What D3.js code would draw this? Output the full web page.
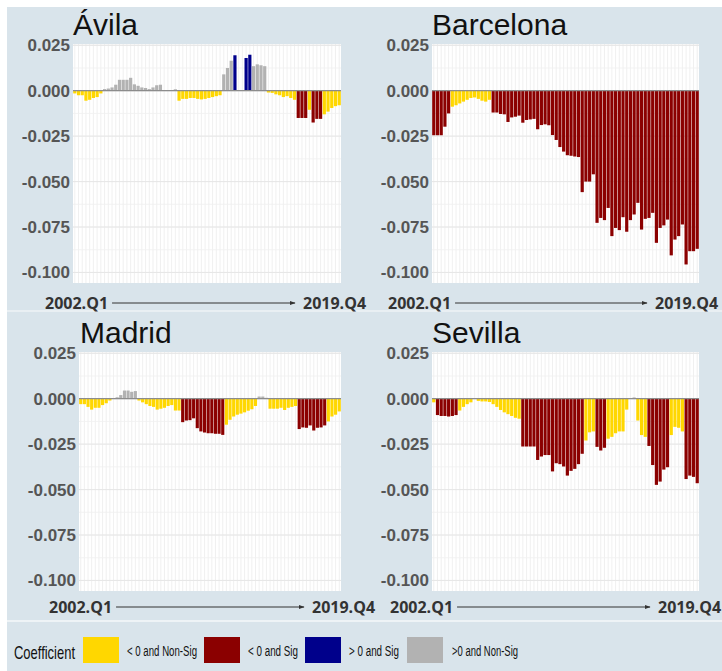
<!DOCTYPE html>
<html>
<head>
<meta charset="utf-8">
<script src="https://cdn.jsdelivr.net/npm/d3@7"></script>
<style>
  body { margin: 0; background: #ffffff; }
  svg { display: block; }
</style>
</head>
<body>
<svg id="fig" width="722" height="671"></svg>
<script>
// Quarterly periods 2002.Q1 ... 2019.Q4
const quarters = [];
for (let yr = 2002; yr <= 2019; yr++) for (let q = 1; q <= 4; q++) quarters.push(yr + ".Q" + q);

const yTicks = [0.025, 0, -0.025, -0.05, -0.075, -0.1];
const tickLabels = ["0.025", "0.000", "-0.025", "-0.050", "-0.075", "-0.100"];
const cities = ["Ávila", "Barcelona", "Madrid", "Sevilla"];
const categories = ["< 0 and Non-Sig", "< 0 and Sig", "> 0 and Sig", ">0 and Non-Sig"];
const categoryColors = ["#FFD700", "#8B0000", "#00008B", "#B2B2B2"];

// Coefficients per quarter
const avila = [
  -0.0015, -0.0025, -0.0025, -0.0055, -0.005, -0.004, -0.0035, -0.0015,
  0.0009, 0.0012, 0.0018, 0.0033, 0.006, 0.006, 0.006, 0.0071,
  0.0035, 0.0027, 0.0018, 0.0015, 0.0009, 0.0018, 0.003, 0.0033,
  0, 0, 0, 0.0008, -0.0055, -0.0045, -0.0045, -0.004,
  -0.004, -0.0045, -0.0048, -0.0045, -0.004, -0.0035, -0.003, -0.0025,
  0.009, 0.0125, 0.0165, 0.0195, 0, 0, 0.018, 0.0198,
  0.0135, 0.0145, 0.014, 0.0135, -0.001, -0.0012, -0.002, -0.0025,
  -0.0035, -0.003, -0.004, -0.005, -0.015, -0.015, -0.015, -0.0105,
  -0.0175, -0.0155, -0.0155, -0.013, -0.0115, -0.0095, -0.0085, -0.008
];
const avilaSig = [
  0,0,0,0,0,0,0,0, 0,0,0,0,0,0,0,0, 0,0,0,0,0,0,0,0,
  0,0,0,0,0,0,0,0, 0,0,0,0,0,0,0,0, 0,0,0,1,0,0,1,1,
  0,0,0,0,0,0,0,0, 0,0,0,0,1,1,1,0, 1,1,1,0,0,0,0,0
];

const barcelona = [
  -0.0245, -0.0245, -0.0245, -0.0198, -0.0125, -0.0088, -0.008, -0.007,
  -0.006, -0.005, -0.004, -0.0037, -0.0045, -0.0055, -0.006, -0.005,
  -0.012, -0.012, -0.0128, -0.013, -0.0172, -0.0147, -0.0143, -0.0137,
  -0.0176, -0.0161, -0.0158, -0.0155, -0.0212, -0.0189, -0.0185, -0.019,
  -0.0244, -0.0271, -0.031, -0.0335, -0.0355, -0.0358, -0.0362, -0.0365,
  -0.0558, -0.050, -0.050, -0.046, -0.0727, -0.070, -0.0712, -0.0645,
  -0.080, -0.0755, -0.0767, -0.0696, -0.0776, -0.0712, -0.0681, -0.0617,
  -0.0764, -0.0705, -0.070, -0.0672, -0.0837, -0.0755, -0.0741, -0.0709,
  -0.0906, -0.0819, -0.080, -0.0736, -0.0956, -0.0883, -0.0883, -0.087
];
const barcelonaSig = [
  1,1,1,1,1,0,0,0, 0,0,0,0,0,0,0,0, 1,1,1,1,1,1,1,1,
  1,1,1,1,1,1,1,1, 1,1,1,1,1,1,1,1, 1,1,1,1,1,1,1,1,
  1,1,1,1,1,1,1,1, 1,1,1,1,1,1,1,1, 1,1,1,1,1,1,1,1
];

const madrid = [
  -0.003, -0.003, -0.0045, -0.006, -0.005, -0.005, -0.0035, -0.0025,
  -0.001, 0.0003, 0.0008, 0.002, 0.0045, 0.0045, 0.0038, 0.0042,
  -0.001, -0.002, -0.003, -0.004, -0.0045, -0.006, -0.0055, -0.005,
  -0.004, -0.0035, -0.0065, -0.0065, -0.0129, -0.012, -0.0118, -0.0108,
  -0.0162, -0.018, -0.0186, -0.019, -0.019, -0.0193, -0.0193, -0.0199,
  -0.0143, -0.0116, -0.0098, -0.0088, -0.0082, -0.0075, -0.0066, -0.0058,
  -0.004, 0.0012, 0.0012, 0.0005, -0.0055, -0.0055, -0.0055, -0.005,
  -0.0062, -0.005, -0.0045, -0.004, -0.0167, -0.0158, -0.016, -0.0147,
  -0.0175, -0.016, -0.0158, -0.0147, -0.0125, -0.0098, -0.0088, -0.007
];
const madridSig = [
  0,0,0,0,0,0,0,0, 0,0,0,0,0,0,0,0, 0,0,0,0,0,0,0,0,
  0,0,0,0,1,1,1,1, 1,1,1,1,1,1,1,1, 0,0,0,0,0,0,0,0,
  0,0,0,0,0,0,0,0, 0,0,0,0,1,1,1,1, 1,1,1,1,0,0,0,0
];

const sevilla = [
  -0.002, -0.009, -0.0095, -0.0095, -0.0098, -0.0095, -0.009, -0.0065,
  -0.0045, -0.003, -0.002, 0.0003, -0.0012, -0.0015, -0.0015, -0.0018,
  -0.003, -0.0045, -0.0062, -0.0075, -0.0085, -0.0095, -0.0105, -0.011,
  -0.0263, -0.0263, -0.0263, -0.0263, -0.0337, -0.0318, -0.031, -0.031,
  -0.040, -0.0355, -0.036, -0.0373, -0.0423, -0.0397, -0.0386, -0.036,
  -0.0303, -0.023, -0.0185, -0.018, -0.0265, -0.0285, -0.027, -0.022,
  -0.021, -0.019, -0.018, -0.018, -0.006, 0, 0.0007, -0.012,
  -0.02, -0.021, -0.026, -0.0365, -0.0474, -0.0456, -0.039, -0.0377,
  -0.02, -0.0155, -0.016, -0.018, -0.0442, -0.0423, -0.043, -0.0465
];
const sevillaSig = [
  0,1,1,1,1,1,1,0, 0,0,0,0,0,0,0,0, 0,0,0,0,0,0,0,0,
  1,1,1,1,1,1,1,1, 1,1,1,1,1,1,1,1, 1,0,0,0,1,1,1,0,
  0,0,0,0,0,0,0,0, 0,0,1,1,1,1,1,1, 0,0,0,0,1,1,1,1
];

const seriesValues = [avila, barcelona, madrid, sevilla];
const seriesSig = [avilaSig, barcelonaSig, madridSig, sevillaSig];

// Panel geometry (plot rectangles and label anchors)
const panels = [
  { x0: 73,  x1: 341, y0: 44,  y1: 283, titleX: 73,  titleY: 35,  axisY: 303, leftX: 45,  rightX: 303 },
  { x0: 432, x1: 699, y0: 44,  y1: 283, titleX: 432, titleY: 35,  axisY: 303, leftX: 388, rightX: 655 },
  { x0: 79,  x1: 341, y0: 352, y1: 591, titleX: 80,  titleY: 343, axisY: 607, leftX: 49,  rightX: 312 },
  { x0: 432, x1: 699, y0: 352, y1: 591, titleX: 432, titleY: 343, axisY: 607, leftX: 390, rightX: 658 }
];

const svg = d3.select("#fig");
const W = 722, H = 671;

// Figure background
svg.append("rect").attr("width", W).attr("height", H).attr("fill", "#ffffff");
svg.append("rect").attr("x", 7).attr("y", 7).attr("width", W - 7).attr("height", H - 7).attr("fill", "#d9e4eb");
svg.append("line").attr("x1", 7).attr("x2", W).attr("y1", 311).attr("y2", 311)
  .attr("stroke", "#e9eff3").attr("stroke-width", 2);
svg.append("line").attr("x1", 7).attr("x2", W).attr("y1", 621).attr("y2", 621)
  .attr("stroke", "#eef3f6").attr("stroke-width", 2);

const defs = svg.append("defs");
defs.append("marker").attr("id", "arrowhead")
  .attr("viewBox", "0 0 10 10").attr("refX", 9).attr("refY", 5)
  .attr("markerWidth", 6).attr("markerHeight", 6).attr("orient", "auto")
  .append("path").attr("d", "M0,1.5 L10,5 L0,8.5 Z").attr("fill", "#333");

function category(v, sig) {
  if (v < 0) return sig ? 1 : 0;
  return sig ? 2 : 3;
}

panels.forEach((p, pi) => {
  const g = svg.append("g");
  const values = seriesValues[pi];
  const sig = seriesSig[pi];

  const x = d3.scaleBand().domain(quarters).range([p.x0, p.x1]).paddingInner(0.14).paddingOuter(0.05);
  const y = d3.scaleLinear().domain([-0.1058, 0.0257]).range([p.y1, p.y0]);

  // plot panel
  g.append("rect").attr("x", p.x0).attr("y", p.y0)
    .attr("width", p.x1 - p.x0).attr("height", p.y1 - p.y0).attr("fill", "#ffffff");

  // grid: one vertical line per quarter, horizontal major and minor lines
  g.append("g").selectAll("line").data(quarters).join("line")
    .attr("x1", d => x(d) + x.bandwidth() / 2).attr("x2", d => x(d) + x.bandwidth() / 2)
    .attr("y1", p.y0).attr("y2", p.y1)
    .attr("stroke", "#ececec").attr("stroke-width", 0.8);
  const minor = d3.range(-0.1, 0.026, 0.0125);
  g.append("g").selectAll("line").data(minor).join("line")
    .attr("x1", p.x0).attr("x2", p.x1)
    .attr("y1", d => y(d)).attr("y2", d => y(d))
    .attr("stroke", "#f0f0f0").attr("stroke-width", 0.8);
  g.append("g").selectAll("line").data(yTicks).join("line")
    .attr("x1", p.x0).attr("x2", p.x1)
    .attr("y1", d => y(d)).attr("y2", d => y(d))
    .attr("stroke", "#e6e6e6").attr("stroke-width", 1);

  // bars
  const rows = quarters.map((q, i) => ({ q, v: values[i], c: category(values[i], sig[i]) }))
    .filter(d => d.v !== 0);
  g.append("g").selectAll("rect").data(rows).join("rect")
    .attr("x", d => x(d.q)).attr("width", x.bandwidth())
    .attr("y", d => y(Math.max(0, d.v)))
    .attr("height", d => Math.abs(y(d.v) - y(0)))
    .attr("fill", d => categoryColors[d.c]);

  // zero reference line
  g.append("line").attr("x1", p.x0).attr("x2", p.x1)
    .attr("y1", y(0)).attr("y2", y(0))
    .attr("stroke", "#8c8c8c").attr("stroke-width", 1.3);

  // y axis labels
  const axis = d3.axisLeft(y).tickValues(yTicks).tickSize(0).tickPadding(3)
    .tickFormat((d, i) => tickLabels[i]);
  const ax = g.append("g").attr("transform", `translate(${p.x0},0)`).call(axis);
  ax.select(".domain").remove();
  ax.selectAll("text")
    .attr("font-family", "'Liberation Sans', Arial, sans-serif")
    .attr("font-weight", "bold").attr("font-size", 17).attr("fill", "#555555");

  // title
  g.append("text").attr("x", p.titleX).attr("y", p.titleY).text(cities[pi])
    .attr("font-family", "'Liberation Sans', Arial, sans-serif")
    .attr("font-size", 30).attr("fill", "#111111");

  // period range under the panel
  const lab = (tx, str) => g.append("text").attr("x", tx).attr("y", p.axisY)
    .attr("dy", "0.35em").text(str)
    .attr("font-family", "'Open Sans', sans-serif").attr("font-weight", "bold")
    .attr("font-size", 16).attr("fill", "#333333");
  const l1 = lab(p.leftX, quarters[0]);
  const l2 = lab(p.rightX, quarters[quarters.length - 1]);
  const b1 = l1.node().getBBox();
  g.append("line")
    .attr("x1", b1.x + b1.width + 4).attr("x2", p.rightX - 8)
    .attr("y1", p.axisY).attr("y2", p.axisY)
    .attr("stroke", "#333").attr("stroke-width", 1)
    .attr("marker-end", "url(#arrowhead)");
});

// Legend
const legend = svg.append("g");
legend.append("text").attr("x", 14).attr("y", 652).attr("dy", "0.35em").text("Coefficient")
  .attr("font-family", "'Liberation Sans Narrow', 'Arial Narrow', 'Liberation Sans', sans-serif")
  .attr("font-size", 19).attr("fill", "#111")
  .attr("textLength", 61).attr("lengthAdjust", "spacingAndGlyphs");
const swatchX = [83, 204, 305, 407];
const labelX = [127, 248, 349, 452];
const labelW = [70, 50, 50, 66];
categories.forEach((c, i) => {
  legend.append("rect").attr("x", swatchX[i]).attr("y", 637).attr("width", 36).attr("height", 26)
    .attr("fill", categoryColors[i]);
  legend.append("text").attr("x", labelX[i]).attr("y", 651).attr("dy", "0.35em").text(c)
    .attr("font-family", "'Liberation Sans Narrow', 'Arial Narrow', 'Liberation Sans', sans-serif")
    .attr("font-size", 15.5).attr("fill", "#111")
    .attr("textLength", labelW[i]).attr("lengthAdjust", "spacingAndGlyphs");
});
</script>
</body>
</html>
